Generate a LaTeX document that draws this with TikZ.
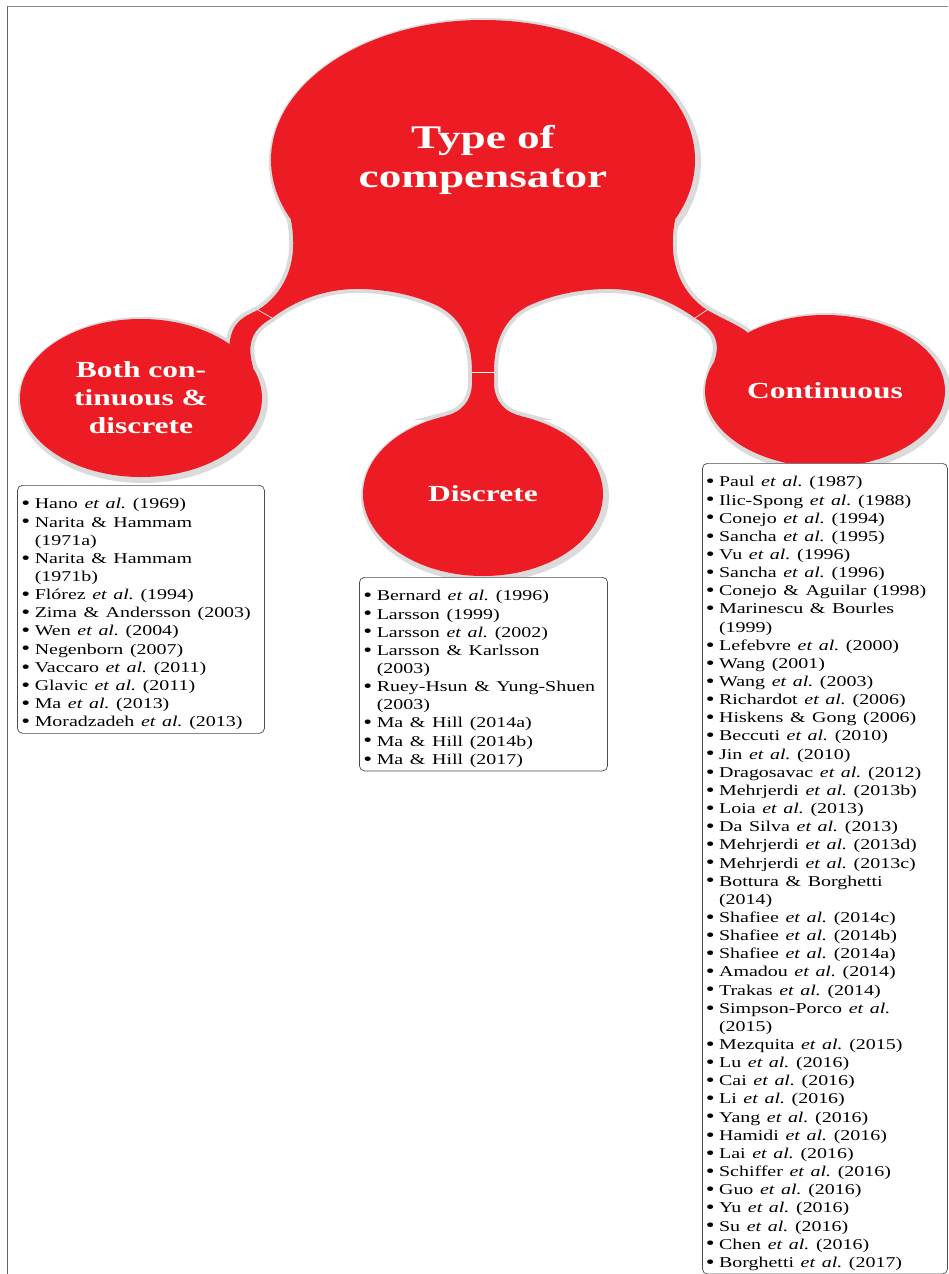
\documentclass[tikz,border=0pt]{standalone}
\usepackage{fontspec}
\setmainfont{Liberation Serif}
\usetikzlibrary{shapes.geometric}

\definecolor{bubblered}{RGB}{237,28,36}
\pgfdeclarelayer{shade}
\pgfdeclarelayer{blob}
\pgfsetlayers{shade,blob,main}

\newcommand{\refitem}[1]{\makebox[10pt][l]{\raisebox{-0.8pt}{\fontsize{19}{19}\selectfont\textbullet}}#1}
\newcommand{\refcont}[1]{\hspace*{10pt}#1}

\begin{document}
\frenchspacing
\begin{tikzpicture}[x=1pt, y=-1pt,
  bubble/.style 2 args={ellipse, minimum width=#1/1.37, minimum height=#2, inner sep=0pt,
                        xscale=1.37, fill=bubblered, text=white, align=center},
  halo/.style 2 args={ellipse, minimum width=#1/1.37, minimum height=#2, inner sep=0pt,
                      xscale=1.37, draw=black!14, line width=8pt},
  headfont/.style={font=\fontsize{23}{28}\selectfont\bfseries},
  reflist/.style={rectangle, rounded corners=5pt, draw=black!70, line width=0.7pt, fill=white,
                  xscale=1.33, align=left, anchor=north west, inner ysep=3.5pt,
                  execute at begin node={\rule{0pt}{20pt}},
                  font=\fontsize{15}{18.15}\selectfont},
  seam/.style={white, line width=0.6pt},
  frame/.style={black!60, line width=1pt}]
\useasboundingbox (0,0) rectangle (948,1274);

% frame
\draw[frame, black!45] (7,6) -- (948,6);
\draw[frame]           (7,6) -- (7,1274);

% bubbles
\node[bubble={424}{280}, font=\fontsize{33}{39}\selectfont\bfseries] (type) at (483,160) {Type of\\compensator};
\node[bubble={242}{158}, headfont] (both)       at (141,398) {Both con-\\tinuous \&\\discrete};
\node[bubble={240}{164}, headfont] (discrete)   at (483,494) {Discrete};
\node[bubble={240}{152}, headfont] (continuous) at (825,391) {Continuous};

% shadows
\begin{pgfonlayer}{shade}
\node[halo={424}{280}] (typehalo)       at ([shift={(2,2)}]type.center) {};
\node[halo={242}{158}] (bothhalo)       at ([shift={(2,2)}]both.center) {};
\node[halo={240}{164}] (discretehalo)   at ([shift={(2,2)}]discrete.center) {};
\node[halo={240}{152}] (continuoushalo) at ([shift={(2,2)}]continuous.center) {};
\end{pgfonlayer}

% arms
\begin{pgfonlayer}{blob}
\fill[bubblered, preaction={draw=black!14, line width=8pt}]
  (both.40) .. controls (232,322) and (243,317) .. (258,310)
            .. controls (282,295) and (300,265) .. (type.203)
  -- (type.337) .. controls (666,265) and (684,295) .. (707,310)
            .. controls (725,320) and (740,326) .. (continuous.134)
  -- (continuous.160) .. controls (722,340) and (712,328) .. (695,318)
            .. controls (670,300) and (640,288) .. (604,289)
            .. controls (570,290) and (545,298) .. (528,306)
            .. controls (505,318) and (494,340) .. (494,372)
  -- (494,385) .. controls (495,400) and (503,412) .. (discrete.70)
  -- (discrete.110) .. controls (463,412) and (471,400) .. (472,385)
  -- (472,372) .. controls (472,340) and (461,318) .. (438,306)
            .. controls (421,298) and (396,290) .. (362,289)
            .. controls (326,288) and (296,300) .. (272,318)
            .. controls (255,328) and (245,340) .. (both.20)
  -- cycle;
\end{pgfonlayer}

\draw[seam] (258,310) -- (272,318);
\draw[seam] (472,372) -- (494,372);
\draw[seam] (695,318) -- (707,310);

% lists
\node[reflist, text width=179.7pt, inner xsep=3pt] (bothlist) at (17,485) {%
\refitem{Hano \textit{et al.} (1969)}\\
\refitem{Narita \& Hammam}\\
\refcont{(1971a)}\\
\refitem{Narita \& Hammam}\\
\refcont{(1971b)}\\
\refitem{Flórez \textit{et al.} (1994)}\\
\refitem{Zima \& Andersson (2003)}\\
\refitem{Wen \textit{et al.} (2004)}\\
\refitem{Negenborn (2007)}\\
\refitem{Vaccaro \textit{et al.} (2011)}\\
\refitem{Glavic \textit{et al.} (2011)}\\
\refitem{Ma \textit{et al.} (2013)}\\
\refitem{Moradzadeh \textit{et al.} (2013)}};

\node[reflist, text width=180.5pt, inner xsep=3pt] (discretelist) at (359,577) {%
\refitem{Bernard \textit{et al.} (1996)}\\
\refitem{Larsson (1999)}\\
\refitem{Larsson \textit{et al.} (2002)}\\
\refitem{Larsson \& Karlsson}\\
\refcont{(2003)}\\
\refitem{Ruey-Hsun \& Yung-Shuen}\\
\refcont{(2003)}\\
\refitem{Ma \& Hill (2014a)}\\
\refitem{Ma \& Hill (2014b)}\\
\refitem{Ma \& Hill (2017)}};

\node[reflist, text width=179.2pt, inner xsep=2.5pt] (continuouslist) at (702,463) {%
\refitem{Paul \textit{et al.} (1987)}\\
\refitem{Ilic-Spong \textit{et al.} (1988)}\\
\refitem{Conejo \textit{et al.} (1994)}\\
\refitem{Sancha \textit{et al.} (1995)}\\
\refitem{Vu \textit{et al.} (1996)}\\
\refitem{Sancha \textit{et al.} (1996)}\\
\refitem{Conejo \& Aguilar (1998)}\\
\refitem{Marinescu \& Bourles}\\
\refcont{(1999)}\\
\refitem{Lefebvre \textit{et al.} (2000)}\\
\refitem{Wang (2001)}\\
\refitem{Wang \textit{et al.} (2003)}\\
\refitem{Richardot \textit{et al.} (2006)}\\
\refitem{Hiskens \& Gong (2006)}\\
\refitem{Beccuti \textit{et al.} (2010)}\\
\refitem{Jin \textit{et al.} (2010)}\\
\refitem{Dragosavac \textit{et al.} (2012)}\\
\refitem{Mehrjerdi \textit{et al.} (2013b)}\\
\refitem{Loia \textit{et al.} (2013)}\\
\refitem{Da Silva \textit{et al.} (2013)}\\
\refitem{Mehrjerdi \textit{et al.} (2013d)}\\
\refitem{Mehrjerdi \textit{et al.} (2013c)}\\
\refitem{Bottura \& Borghetti}\\
\refcont{(2014)}\\
\refitem{Shafiee \textit{et al.} (2014c)}\\
\refitem{Shafiee \textit{et al.} (2014b)}\\
\refitem{Shafiee \textit{et al.} (2014a)}\\
\refitem{Amadou \textit{et al.} (2014)}\\
\refitem{Trakas \textit{et al.} (2014)}\\
\refitem{Simpson-Porco \textit{et al.}}\\
\refcont{(2015)}\\
\refitem{Mezquita \textit{et al.} (2015)}\\
\refitem{Lu \textit{et al.} (2016)}\\
\refitem{Cai \textit{et al.} (2016)}\\
\refitem{Li \textit{et al.} (2016)}\\
\refitem{Yang \textit{et al.} (2016)}\\
\refitem{Hamidi \textit{et al.} (2016)}\\
\refitem{Lai \textit{et al.} (2016)}\\
\refitem{Schiffer \textit{et al.} (2016)}\\
\refitem{Guo \textit{et al.} (2016)}\\
\refitem{Yu \textit{et al.} (2016)}\\
\refitem{Su \textit{et al.} (2016)}\\
\refitem{Chen \textit{et al.} (2016)}\\
\refitem{Borghetti \textit{et al.} (2017)}};
\end{tikzpicture}
\end{document}
